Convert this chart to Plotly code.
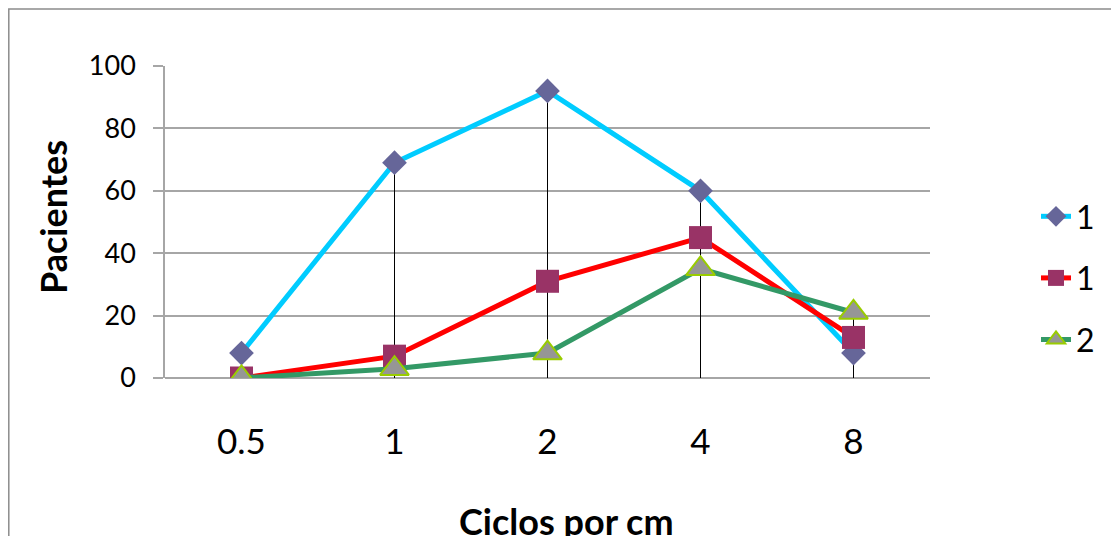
import plotly.graph_objects as go

categories = ["0.5", "1", "2", "4", "8"]
series_names = ["1", "1", "2"]
s1 = [8, 69, 92, 60, 8]
s2 = [0, 7, 31, 45, 13]
s3 = [0, 3, 8, 35, 21]
y_ticks = [0, 20, 40, 60, 80, 100]

W, H = 1119, 536
OFF = 8  # page body margin
L, R, T, B = 165 - OFF, 930 - OFF, 66 - OFF, 378 - OFF

def px_x(p):
    return (p - OFF - L) / (R - L)

def px_y(p):
    return (B - (p - OFF)) / (B - T)

FONT = "Lato"

fig = go.Figure()

# drop lines: from the highest value at each category down to the axis
dx, dy = [], []
for i, c in enumerate(categories):
    m = max(s1[i], s2[i], s3[i])
    dx += [c, c, None]
    dy += [m, 0, None]
fig.add_trace(go.Scatter(x=dx, y=dy, mode="lines", line=dict(color="black", width=1),
                         showlegend=False, hoverinfo="skip"))

styles = [
    dict(line=dict(color="#00CCFF", width=5),
         marker=dict(symbol="diamond", size=19, color="#666699", line=dict(width=0))),
    dict(line=dict(color="#FF0000", width=5),
         marker=dict(symbol="square", size=23, color="#993366", line=dict(width=0))),
    dict(line=dict(color="#339966", width=5),
         marker=dict(symbol="triangle-up", size=25, color="#969696",
                     line=dict(color="#99CC00", width=2))),
]
for k, (name, vals) in enumerate(zip(series_names, [s1, s2, s3])):
    fig.add_trace(go.Scatter(x=categories, y=vals, mode="lines+markers", name=name,
                             legendgroup=f"g{k}", **styles[k]))

# outer chart border (extends past the cropped edges)
fig.add_shape(type="rect", xref="paper", yref="paper",
              x0=px_x(OFF + 0.8), x1=px_x(1140), y0=px_y(570), y1=px_y(9),
              line=dict(color="#8C8C8C", width=1.5), fillcolor="rgba(0,0,0,0)", layer="below")

fig.add_annotation(text="<b>Pacientes</b>", xref="paper", yref="paper",
                   x=px_x(53), y=px_y(217), textangle=-90, showarrow=False,
                   font=dict(family=FONT, size=36, color="black"),
                   xanchor="center", yanchor="middle")
fig.add_annotation(text="<b>Ciclos por cm</b>", xref="paper", yref="paper",
                   x=px_x(566), y=px_y(521), showarrow=False,
                   font=dict(family=FONT, size=36, color="black"),
                   xanchor="center", yanchor="middle")

fig.update_layout(
    width=W, height=H,
    margin=dict(l=L, r=W - R, t=T, b=H - B, pad=0),
    paper_bgcolor="white", plot_bgcolor="white",
    font=dict(family=FONT, color="black"),
    showlegend=True,
    legend=dict(x=px_x(1036), y=px_y(189), xanchor="left", yanchor="top",
                font=dict(family=FONT, size=32, color="black"),
                tracegroupgap=17, bgcolor="rgba(0,0,0,0)", itemwidth=30),
)
fig.update_xaxes(type="category", range=[-0.5, 4.5], showgrid=False,
                 showline=False, ticks="", zeroline=False,
                 tickfont=dict(family=FONT, size=35, color="black"),
                 ticklabelstandoff=40)
fig.update_yaxes(range=[0, 100], tickvals=y_ticks, showgrid=True,
                 gridcolor="#A6A6A6", gridwidth=1.5,
                 zeroline=True, zerolinecolor="#A6A6A6", zerolinewidth=1.5,
                 showline=True, linecolor="#A6A6A6", linewidth=1.5,
                 ticks="outside", ticklen=10, tickcolor="#A6A6A6", tickwidth=1.5,
                 tickfont=dict(family=FONT, size=27, color="black"),
                 ticklabelstandoff=12)

fig.write_html("out.html")
